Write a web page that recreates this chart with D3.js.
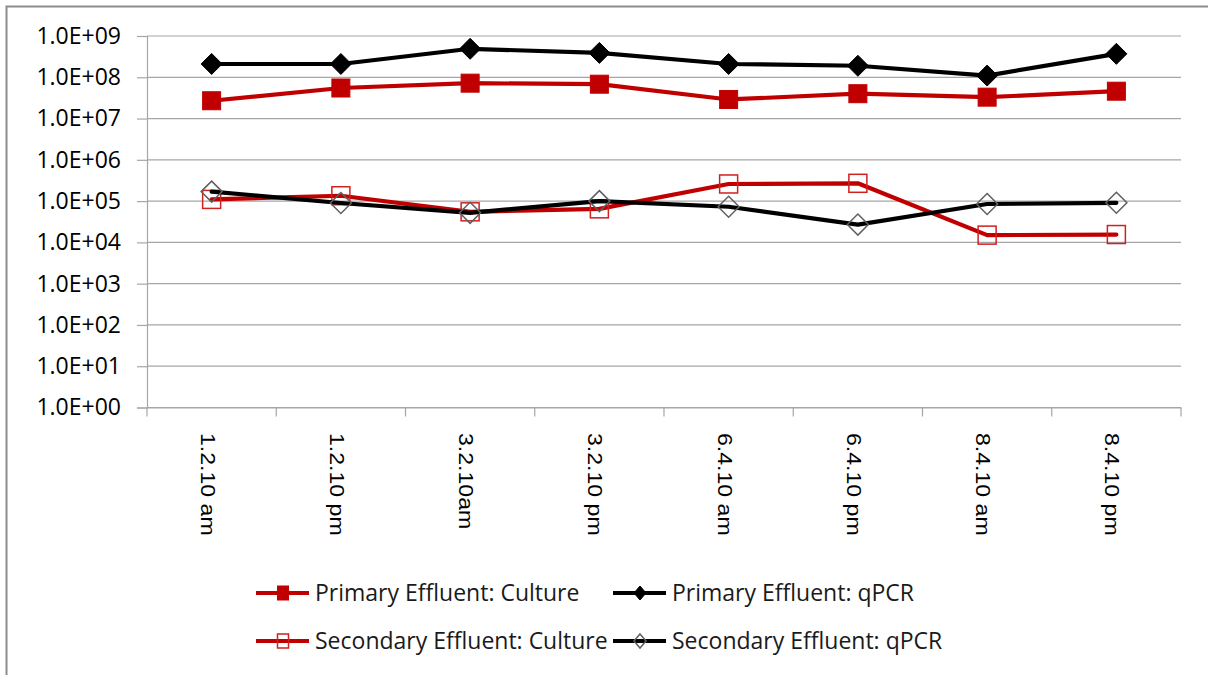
<!DOCTYPE html>
<html>
<head>
<meta charset="utf-8">
<script src="https://cdn.jsdelivr.net/npm/d3@7"></script>
<style>
  html, body { margin: 0; padding: 0; background: #fff; }
  svg { display: block; }
</style>
</head>
<body>
<svg id="chart" width="1208" height="675"></svg>
<script>
const categories = ["1.2.10 am", "1.2.10 pm", "3.2.10am", "3.2.10 pm", "6.4.10 am", "6.4.10 pm", "8.4.10 am", "8.4.10 pm"];
const primaryCulture   = [2.7e7, 5.5e7, 7.2e7, 6.8e7, 2.9e7, 4.0e7, 3.3e7, 4.6e7];
const primaryQPCR      = [2.1e8, 2.1e8, 4.9e8, 3.9e8, 2.1e8, 1.9e8, 1.1e8, 3.7e8];
const secondaryCulture = [1.1e5, 1.35e5, 5.5e4, 6.5e4, 2.6e5, 2.7e5, 1.5e4, 1.55e4];
const secondaryQPCR    = [1.7e5, 9.0e4, 5.2e4, 1.0e5, 7.3e4, 2.7e4, 8.5e4, 9.1e4];
const yTickValues = [1e0, 1e1, 1e2, 1e3, 1e4, 1e5, 1e6, 1e7, 1e8, 1e9];
const seriesNames = ["Primary Effluent: Culture", "Primary Effluent: qPCR", "Secondary Effluent: Culture", "Secondary Effluent: qPCR"];

const series = [
  { name: seriesNames[0], values: primaryCulture, color: "#C00000", marker: "square", filled: true },
  { name: seriesNames[1], values: primaryQPCR, color: "#000000", marker: "diamond", filled: true },
  { name: seriesNames[2], values: secondaryCulture, color: "#C00000", marker: "square", filled: false },
  { name: seriesNames[3], values: secondaryQPCR, color: "#000000", marker: "diamond", filled: false }
];

const svg = d3.select("#chart");
const plotLeft = 147, plotRight = 1181, plotTop = 36, plotBottom = 407.5;

// outer chart border (cropped at right/bottom)
svg.append("rect").attr("x", 6.5).attr("y", 6.5).attr("width", 1260).attr("height", 720)
  .attr("fill", "none").attr("stroke", "#8c8c8c").attr("stroke-width", 2);

const x = d3.scaleBand().domain(categories).range([plotLeft, plotRight]).padding(0);
const y = d3.scaleLog().domain([1, 1e9]).range([plotBottom, plotTop]);

const fmt = v => "1.0E+" + String(Math.round(Math.log10(v))).padStart(2, "0");

// gridlines
svg.append("g").selectAll("line").data(yTickValues).join("line")
  .attr("x1", plotLeft).attr("x2", plotRight)
  .attr("y1", d => y(d)).attr("y2", d => y(d))
  .attr("stroke", "#a6a6a6").attr("stroke-width", 1.2);

// y axis
const yAxis = svg.append("g").attr("transform", `translate(${plotLeft},0)`)
  .call(d3.axisLeft(y).tickValues(yTickValues).tickFormat(fmt).tickSize(10).tickPadding(16));
yAxis.select(".domain").attr("stroke", "#a6a6a6").attr("stroke-width", 1.2);
yAxis.selectAll(".tick line").attr("stroke", "#a6a6a6").attr("stroke-width", 1.2);
yAxis.selectAll(".tick text").attr("font-family", "'Open Sans', Lato, sans-serif")
  .attr("font-size", 23).attr("fill", "#000");

// x axis
const xAxis = svg.append("g").attr("transform", `translate(0,${plotBottom})`)
  .call(d3.axisBottom(x).tickSize(0).tickFormat(""));
xAxis.select(".domain").attr("stroke", "#a6a6a6").attr("stroke-width", 1.2);
const boundaries = categories.map(c => x(c)).concat([plotRight]);
svg.append("g").selectAll("line").data(boundaries).join("line")
  .attr("x1", d => d).attr("x2", d => d).attr("y1", plotBottom).attr("y2", plotBottom + 9)
  .attr("stroke", "#a6a6a6").attr("stroke-width", 1.2);

svg.append("g").selectAll("text").data(categories).join("text")
  .attr("transform", d => `translate(${x(d) + x.bandwidth() / 2 - 4},433) rotate(90) scale(1.155,1)`)
  .attr("dy", "0.35em")
  .attr("font-family", "'Liberation Sans', Arial, sans-serif")
  .attr("font-size", 20).attr("fill", "#000")
  .text(d => d);

const cx = (d, i) => x(categories[i]) + x.bandwidth() / 2;

function drawMarker(g, type, filled, color, px, py, w, h) {
  if (type === "square") {
    g.append("rect").attr("x", px - w / 2).attr("y", py - h / 2)
      .attr("width", w).attr("height", h)
      .attr("fill", filled ? color : "none")
      .attr("stroke", filled ? color : "#d02020").attr("stroke-width", filled ? 1 : 1.5);
  } else {
    const rx = w / 2, ry = h / 2;
    g.append("path").attr("d", `M${px},${py - ry}L${px + rx},${py}L${px},${py + ry}L${px - rx},${py}Z`)
      .attr("fill", filled ? color : "none")
      .attr("stroke", filled ? color : "#606060").attr("stroke-width", filled ? 1 : 1.5);
  }
}

const line = d3.line().x((d, i) => cx(d, i)).y(d => y(d));

series.forEach(s => {
  const g = svg.append("g");
  g.append("path").attr("d", line(s.values)).attr("fill", "none")
    .attr("stroke", s.color).attr("stroke-width", 4.2).attr("stroke-linejoin", "round").attr("stroke-linecap", "round");
  s.values.forEach((v, i) => {
    const sz = s.marker === "square" ? 18 : 21;
    drawMarker(g, s.marker, s.filled, s.color, cx(v, i), y(v), sz, sz);
  });
});

// legend
const legendPos = [
  { lx: 256, ly: 593 }, { lx: 613, ly: 593 },
  { lx: 256, ly: 641 }, { lx: 613, ly: 641 }
];
series.forEach((s, i) => {
  const p = legendPos[i];
  const g = svg.append("g");
  g.append("line").attr("x1", p.lx).attr("x2", p.lx + 53).attr("y1", p.ly).attr("y2", p.ly)
    .attr("stroke", s.color).attr("stroke-width", 4.2);
  if (s.marker === "square") drawMarker(g, s.marker, s.filled, s.color, p.lx + 27, p.ly, 11, 14);
  else drawMarker(g, s.marker, s.filled, s.color, p.lx + 27, p.ly, 12, 14);
  g.append("text").attr("x", p.lx + 59).attr("y", p.ly).attr("dy", "0.35em")
    .attr("font-family", "'Open Sans', Lato, sans-serif").attr("font-size", 23).attr("fill", "#1a1a1a")
    .text(s.name);
});
</script>
</body>
</html>
